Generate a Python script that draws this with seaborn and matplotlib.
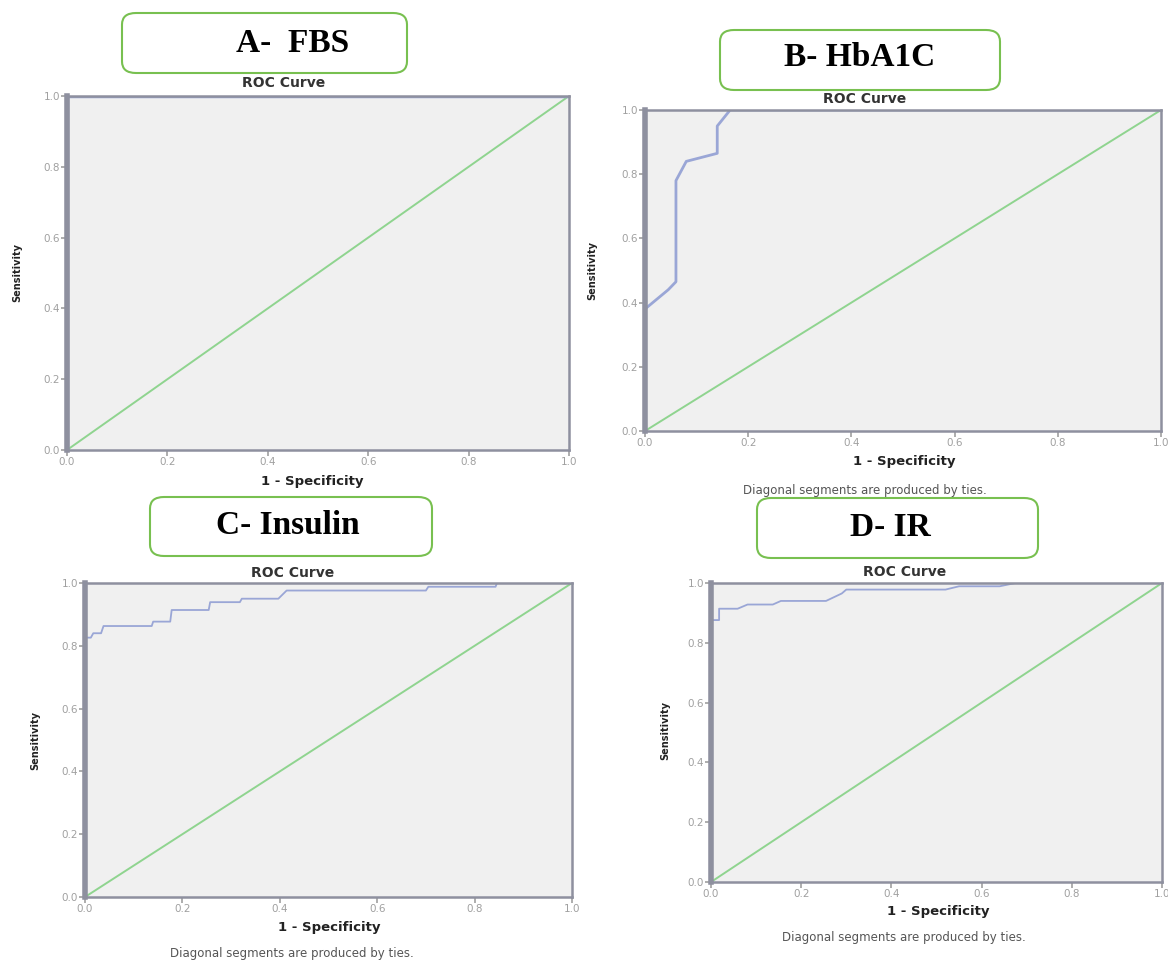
import numpy as np
import pandas as pd
import seaborn as sns
import matplotlib.pyplot as plt
from matplotlib.patches import FancyBboxPatch

# ROC points
fbs_fpr = [0, 0, 1]
fbs_tpr = [0, 1, 1]

hba1c_fpr = [0, 0, 0.03, 0.045, 0.06, 0.06, 0.08, 0.14, 0.14, 0.165, 1]
hba1c_tpr = [0, 0.38, 0.42, 0.44, 0.465, 0.78, 0.84, 0.865, 0.95, 1.0, 1.0]

insulin_fpr = [0, 0, 0.012, 0.017, 0.033, 0.038, 0.137, 0.14, 0.175, 0.178, 0.254,
               0.257, 0.318, 0.322, 0.397, 0.414, 0.70, 0.705, 0.843, 0.846, 1]
insulin_tpr = [0, 0.826, 0.826, 0.84, 0.84, 0.863, 0.863, 0.877, 0.877, 0.914, 0.914,
               0.939, 0.939, 0.95, 0.95, 0.976, 0.976, 0.988, 0.988, 1.0, 1.0]

ir_fpr = [0, 0, 0.018, 0.018, 0.059, 0.081, 0.137, 0.155, 0.255, 0.29, 0.30,
          0.52, 0.55, 0.64, 0.675, 1]
ir_tpr = [0, 0.876, 0.876, 0.914, 0.914, 0.928, 0.928, 0.94, 0.94, 0.965, 0.978,
          0.978, 0.989, 0.989, 1.0, 1.0]

panel_titles = ["A-  FBS", "B- HbA1C", "C- Insulin", "D- IR"]
ticks = [0.0, 0.2, 0.4, 0.6, 0.8, 1.0]
tick_labels = ["0.0", "0.2", "0.4", "0.6", "0.8", "1.0"]
footnote = "Diagonal segments are produced by ties."

W, H = 1168, 961
fig = plt.figure(figsize=(W / 100, H / 100), dpi=100)
fig.patch.set_facecolor("white")


def px(x, y):
    return x / W, 1 - y / H


# axes boxes in pixels: left, top, right, bottom
axes_px = [(67, 96, 569, 450), (645, 110, 1161, 431),
           (85, 583, 572, 897), (711, 583, 1162, 882)]
curves = [(fbs_fpr, fbs_tpr), (hba1c_fpr, hba1c_tpr),
          (insulin_fpr, insulin_tpr), (ir_fpr, ir_tpr)]
curve_lw = [2.5, 2.0, 1.3, 1.3]
# title box (x0, y0, x1, y1) and text centre
boxes = [((122, 13, 407, 73), (293, 43)), ((720, 30, 1000, 90), (860, 58)),
         ((150, 497, 432, 556), (288, 525)), ((757, 498, 1038, 558), (890, 528))]
roc_title_pos = [(284, 83), (865, 99), (293, 573), (905, 572)]
sens_pos = [(17, 273), (592, 270), (35, 740), (665, 730)]
xlab_pos = [(312, 482), (904, 462), (329, 928), (938, 912)]
foot_pos = [None, (865, 490), (292, 953), (904, 937)]

frame = "#8e909f"
roc_col = "#9aa6d6"
diag_col = "#8fd48f"

for i in range(4):
    l, t, r, b = axes_px[i]
    ax = fig.add_axes([l / W, 1 - b / H, (r - l) / W, (b - t) / H])
    ax.set_facecolor("#f0f0f0")
    fpr, tpr = curves[i]
    df = pd.DataFrame({"fpr": fpr, "tpr": tpr})
    sns.lineplot(data=pd.DataFrame({"x": [0, 1], "y": [0, 1]}), x="x", y="y",
                 ax=ax, color=diag_col, lw=1.4, sort=False, estimator=None)
    sns.lineplot(data=df, x="fpr", y="tpr", ax=ax, color=roc_col, lw=curve_lw[i],
                 sort=False, estimator=None)
    ax.set_xlim(0, 1)
    ax.set_ylim(0, 1)
    ax.set_xticks(ticks)
    ax.set_xticklabels(tick_labels)
    ax.set_yticks(ticks)
    ax.set_yticklabels(tick_labels)
    ax.tick_params(labelsize=7.5, colors="#a0a0a0", length=4, width=1.2, pad=1)
    for s in ax.spines.values():
        s.set_color(frame)
        s.set_linewidth(1.8)
    ax.spines["left"].set_linewidth(4)
    ax.set_xlabel("")
    ax.set_ylabel("")

    fig.text(*px(*roc_title_pos[i]), "ROC Curve", ha="center", va="center",
             fontsize=10, fontweight="bold", color="#333333")
    fig.text(*px(*xlab_pos[i]), "1 - Specificity", ha="center", va="center",
             fontsize=9.5, fontweight="bold", color="#222222")
    fig.text(*px(*sens_pos[i]), "Sensitivity", ha="center", va="center",
             rotation=90, fontsize=7, fontweight="bold", color="#222222")

    (x0, y0, x1, y1), (tx, ty) = boxes[i]
    bx, by = px(x0, y1)
    box = FancyBboxPatch((bx, by), (x1 - x0) / W, (y1 - y0) / H,
                         boxstyle="round,pad=0,rounding_size=0.012",
                         transform=fig.transFigure, facecolor="white",
                         edgecolor="#78c050", linewidth=1.5)
    fig.add_artist(box)
    fig.text(*px(tx, ty), panel_titles[i], ha="center", va="center",
             fontsize=24, fontweight="bold", family="Liberation Serif")

    if foot_pos[i] is not None:
        fig.text(*px(*foot_pos[i]), footnote, ha="center", va="center",
                 fontsize=8.5, color="#555555")

fig.savefig("out.png", dpi=100)
